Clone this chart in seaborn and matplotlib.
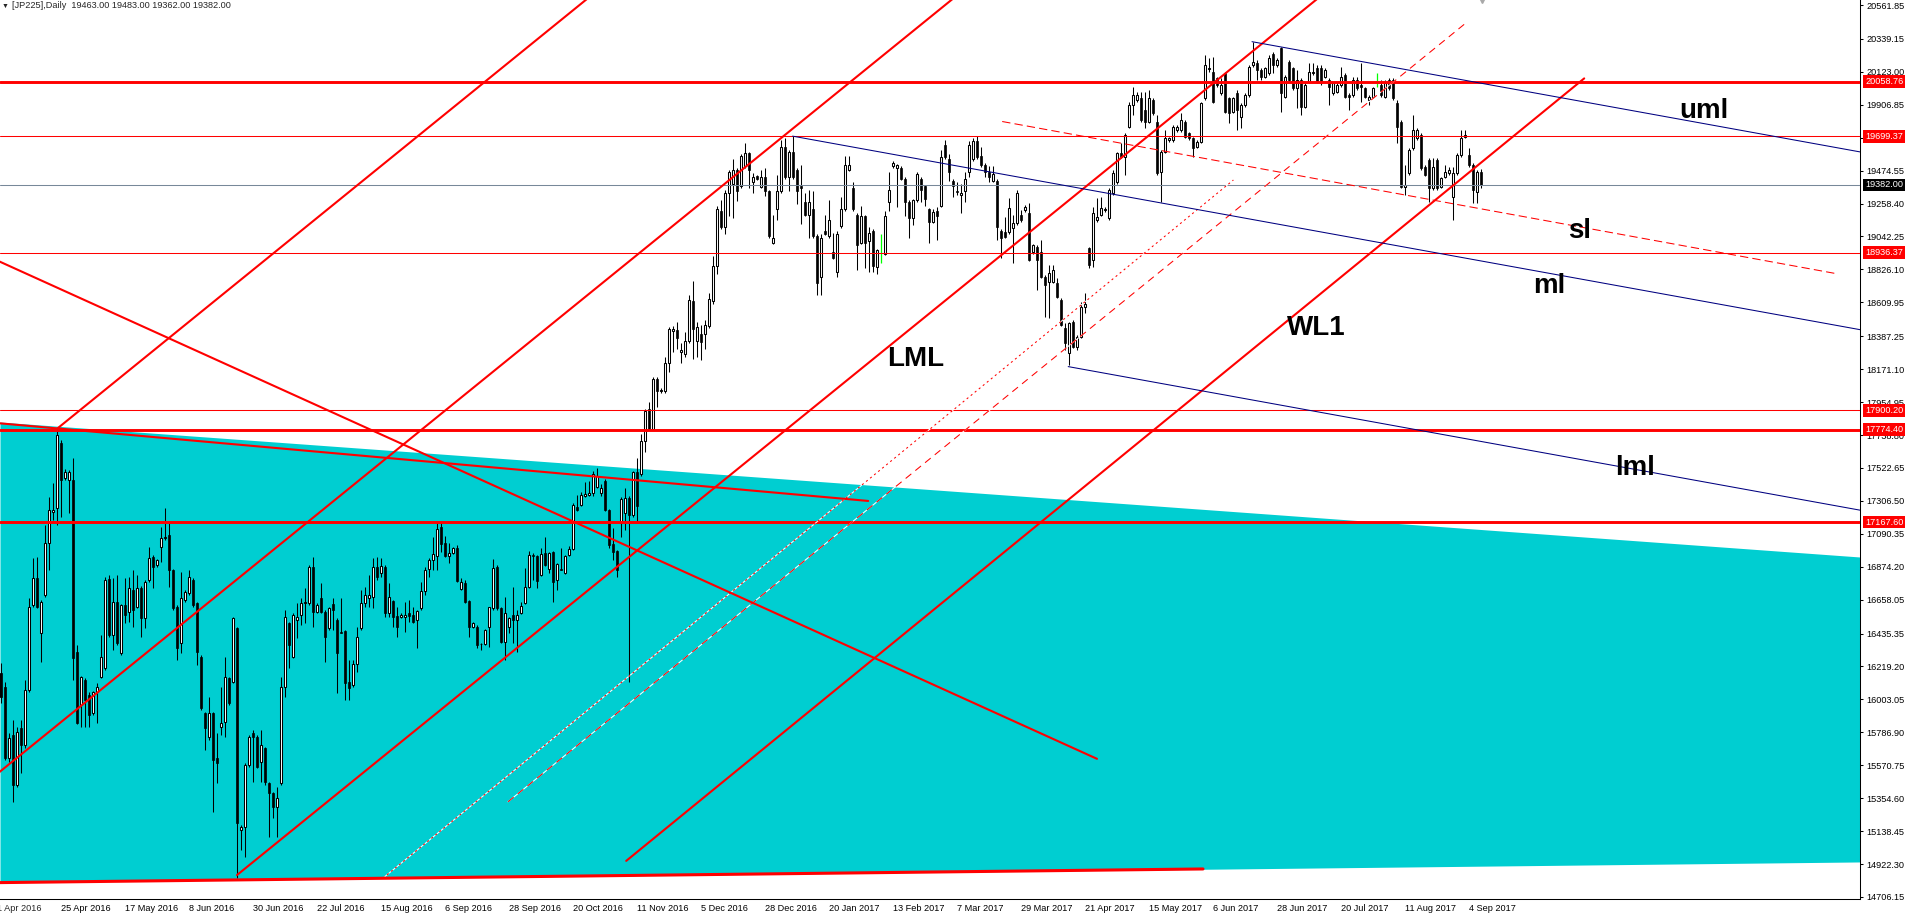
import numpy as np
import pandas as pd
import matplotlib
matplotlib.use("Agg")
import matplotlib.pyplot as plt
import seaborn as sns

# JP225 daily bars, oldest first (bar 0 sits on the left edge of the chart)
opens = [
    16174, 16087, 15616, 15769, 15441, 15813, 15704, 16065, 16623, 16798,
    16437, 16688, 17027, 17235, 17257, 17684, 17454, 17443, 17443, 16316,
    15966, 16130, 16032, 15912, 16054, 16152, 16207, 16791, 16426, 16645,
    16305, 16623, 16579, 16721, 16612, 16732, 16535, 16787, 16940, 16885,
    17006, 17060, 17082, 16852, 16612, 16371, 16655, 16699, 16787, 16634,
    16284, 15912, 15758, 15912, 15616, 15824, 15857, 16141, 16119, 16469,
    15146, 15168, 15572, 15780, 15758, 15594, 15682, 15452, 15386, 15299,
    15452, 16087, 16502, 16284, 16524, 16557, 16634, 16634, 16874, 16579,
    16666, 16579, 16469, 16630, 16525, 16448, 16452, 16120, 16098, 16235,
    16470, 16634, 16667, 16673, 16875, 16831, 16875, 16568, 16651, 16551,
    16542, 16542, 16568, 16557, 16525, 16601, 16715, 16857, 16918, 16945,
    17137, 17032, 16945, 16966, 16995, 16726, 16765, 16649, 16476, 16481,
    16367, 16367, 16476, 16601, 16875, 16601, 16382, 16476, 16557, 16525,
    16573, 16638, 16743, 16951, 16945, 16820, 16962, 16857, 16973, 16787,
    16862, 16831, 16951, 16988, 17264, 17279, 17341, 17345, 17356, 17400,
    17357, 17440, 17246, 17023, 16979, 17159, 17229, 17323, 17214, 17497,
    17486, 17697, 17908, 17779, 18107, 18025, 18025, 18212, 18424, 18428,
    18283, 18271, 18353, 18616, 18353, 18405, 18400, 18452, 18616, 18846,
    19209, 19103, 19326, 19385, 19479, 19373, 19502, 19591, 19397, 19436,
    19366, 19432, 19338, 18998, 19221, 19338, 19631, 19432, 19596, 19479,
    19373, 19268, 19186, 19221, 19045, 18775, 19080, 19045, 18939, 18810,
    19108, 19221, 19479, 19361, 19186, 18998, 19174, 19010, 19080, 18841,
    18950, 18928, 19268, 19502, 19490, 19490, 19420, 19268, 19162, 19279,
    19420, 19373, 19221, 19139, 19209, 19244, 19643, 19549, 19408, 19338,
    19315, 19338, 19467, 19549, 19666, 19572, 19514, 19467, 19408, 19408,
    19080, 19074, 19074, 19096, 19129, 19183, 19216, 19194, 18943, 18975,
    18943, 18778, 18746, 18746, 18735, 18625, 18439, 18275, 18483, 18319,
    18385, 18581, 18964, 18888, 19150, 19183, 19216, 19161, 19325, 19402,
    19588, 19566, 19763, 19905, 19938, 19949, 19873, 19796, 19938, 19796,
    19468, 19599, 19676, 19676, 19741, 19741, 19796, 19719, 19687, 19632,
    19665, 19949, 20139, 20124, 20080, 19982, 20113, 19949, 19862, 19982,
    19829, 19905, 19971, 20168, 20179, 20135, 20091, 20113, 20240, 20168,
    20277, 19960, 20190, 20146, 20015, 20069, 19894, 20058, 20113, 20146,
    20146, 20091, 20069, 19982, 19993, 20037, 20102, 19971, 19971, 20069,
    20037, 20015, 19938, 19960, 20070, 20037, 19960, 20069, 20069, 19916,
    19796, 19369, 19457, 19621, 19687, 19708, 19501, 19544, 19358, 19544,
    19369, 19435, 19457, 19300, 19457, 19577, 19698, 19577, 19511, 19336,
    19463,
]
highs = [
    16240, 16119, 15780, 15868, 15824, 15868, 16130, 16666, 16929, 16940,
    16655, 17148, 17334, 17421, 17782, 17706, 17513, 17509, 17585, 16360,
    16160, 16141, 16054, 16060, 16108, 16426, 16809, 16820, 16798, 16820,
    16630, 16798, 16809, 16852, 16820, 16745, 16787, 17006, 16950, 16925,
    17137, 17257, 17159, 16858, 16623, 16841, 16720, 16852, 16798, 16645,
    16295, 15923, 16021, 15923, 15780, 16087, 16284, 16152, 16546, 16480,
    15180, 15583, 15769, 15802, 15769, 15802, 15693, 15463, 15397, 15430,
    16152, 16590, 16513, 16568, 16634, 16666, 16732, 16885, 16940, 16634,
    16765, 16590, 16612, 16667, 16535, 16667, 16459, 16262, 16262, 16481,
    16722, 16743, 16820, 16929, 16940, 16929, 16886, 16765, 16656, 16612,
    16568, 16645, 16656, 16612, 16590, 16776, 16875, 16929, 17072, 17170,
    17170, 17076, 17028, 17006, 17017, 16798, 16787, 16656, 16514, 16492,
    16372, 16465, 16612, 16923, 16886, 16610, 16678, 16545, 16743, 16590,
    16645, 16864, 16977, 16966, 16951, 16995, 17067, 16973, 16980, 16897,
    16995, 16951, 17010, 17295, 17345, 17367, 17432, 17440, 17500, 17520,
    17420, 17450, 17250, 17126, 16985, 17330, 17389, 17340, 17500, 17591,
    17744, 17908, 17955, 18119, 18119, 18050, 18248, 18447, 18452, 18482,
    18342, 18412, 18658, 18752, 18482, 18459, 18494, 18670, 18916, 19244,
    19279, 19350, 19479, 19549, 19490, 19584, 19654, 19600, 19460, 19445,
    19479, 19490, 19345, 19186, 19443, 19678, 19690, 19610, 19701, 19490,
    19514, 19326, 19350, 19338, 19057, 19057, 19186, 19279, 19068, 19080,
    19303, 19572, 19572, 19397, 19195, 19244, 19180, 19103, 19090, 18960,
    19057, 19209, 19467, 19537, 19520, 19502, 19430, 19280, 19290, 19467,
    19430, 19380, 19230, 19221, 19233, 19608, 19678, 19584, 19420, 19397,
    19385, 19467, 19666, 19690, 19701, 19631, 19525, 19502, 19502, 19420,
    19090, 19172, 19293, 19183, 19347, 19216, 19250, 19260, 18995, 18985,
    19019, 18790, 18855, 18855, 18768, 18636, 18472, 18480, 18495, 18395,
    18614, 18669, 18975, 19238, 19293, 19304, 19238, 19358, 19479, 19599,
    19654, 19719, 19927, 20026, 19993, 19993, 19993, 20004, 19949, 19840,
    19610, 19741, 19698, 19774, 19774, 19851, 19807, 19730, 19698, 19676,
    19927, 20234, 20212, 20223, 20091, 20080, 20124, 19960, 19960, 20004,
    19916, 19982, 20168, 20321, 20201, 20146, 20157, 20234, 20251, 20212,
    20288, 20102, 20201, 20157, 20135, 20080, 20047, 20179, 20183, 20168,
    20168, 20146, 20080, 20058, 20047, 20157, 20113, 19982, 20091, 20091,
    20179, 20026, 19971, 20026, 20113, 20069, 20069, 20080, 20080, 19938,
    19807, 19511, 19621, 19840, 19752, 19719, 19512, 19555, 19555, 19555,
    19435, 19511, 19500, 19501, 19588, 19741, 19741, 19621, 19522, 19479,
    19483,
]
lows = [
    15977, 15605, 15594, 15332, 15430, 15518, 15682, 16054, 16612, 16601,
    16251, 16677, 16852, 17181, 17148, 17202, 17443, 17224, 16130, 15840,
    15824, 15824, 15824, 15901, 15846, 16141, 16196, 16415, 16327, 16360,
    16295, 16502, 16513, 16480, 16601, 16415, 16469, 16776, 16732, 16874,
    16907, 17050, 16743, 16590, 16262, 16305, 16645, 16690, 16612, 16229,
    15933, 15671, 15737, 15266, 15452, 15769, 15758, 15966, 16108, 14829,
    15015, 14971, 15561, 15463, 15550, 15463, 15441, 15102, 15222, 15102,
    15441, 16021, 16207, 16273, 16404, 16491, 16502, 16623, 16480, 16568,
    16568, 16251, 16459, 16459, 16043, 16437, 15999, 15999, 16087, 16185,
    16459, 16612, 16612, 16601, 16787, 16809, 16546, 16546, 16481, 16415,
    16535, 16448, 16514, 16503, 16338, 16590, 16689, 16809, 16853, 16853,
    16973, 16940, 16896, 16960, 16776, 16720, 16634, 16415, 16470, 16338,
    16327, 16360, 16349, 16590, 16590, 16371, 16262, 16437, 16371, 16317,
    16565, 16630, 16732, 16787, 16732, 16810, 16880, 16831, 16645, 16721,
    16850, 16825, 16945, 16983, 17240, 17270, 17330, 17340, 17340, 17390,
    17340, 17240, 17000, 16918, 16809, 17071, 17115, 16119, 17200, 17169,
    17470, 17626, 17769, 17769, 17920, 18013, 18013, 18154, 18283, 18306,
    18213, 18248, 18340, 18236, 18248, 18231, 18306, 18440, 18600, 18799,
    19090, 19061, 19174, 19162, 19272, 19360, 19490, 19361, 19326, 19410,
    19360, 19310, 19030, 18990, 19150, 19330, 19420, 19338, 19420, 19256,
    19127, 19175, 19033, 19035, 18658, 18658, 19050, 19035, 18895, 18775,
    19100, 19210, 19470, 19210, 18822, 18990, 18834, 18810, 18810, 18799,
    18869, 18920, 19209, 19495, 19233, 19410, 19174, 19033, 19115, 19270,
    19268, 19244, 18998, 19130, 19021, 19235, 19550, 19408, 19303, 19315,
    19197, 19268, 19432, 19540, 19550, 19500, 19432, 19397, 19400, 19021,
    18904, 19030, 19060, 18866, 19120, 19140, 19205, 18880, 18930, 18691,
    18770, 18516, 18505, 18735, 18640, 18455, 18297, 18199, 18310, 18297,
    18375, 18538, 18833, 18844, 19140, 19175, 19205, 19150, 19315, 19390,
    19555, 19446, 19752, 19840, 19927, 19796, 19752, 19785, 19840, 19446,
    19271, 19590, 19665, 19665, 19730, 19730, 19687, 19676, 19566, 19621,
    19654, 19938, 20124, 19916, 20026, 19971, 19851, 19785, 19851, 19741,
    19752, 19894, 19960, 20157, 20069, 20069, 20080, 20102, 20113, 20157,
    19862, 19949, 20058, 20004, 19883, 19840, 19883, 20047, 20102, 20047,
    20036, 20080, 19905, 19971, 19982, 20026, 19949, 19872, 19960, 20004,
    19927, 19949, 19905, 19949, 20026, 19960, 19949, 20004, 19938, 19654,
    19360, 19315, 19446, 19610, 19676, 19480, 19436, 19271, 19347, 19347,
    19358, 19424, 19446, 19150, 19446, 19566, 19687, 19500, 19260, 19260,
    19362,
]
closes = [
    16021, 15616, 15747, 15441, 15791, 15704, 16065, 16612, 16798, 16612,
    16645, 17027, 17246, 17246, 17739, 17443, 17498, 17498, 16273, 15846,
    16152, 15999, 15901, 16054, 16087, 16284, 16787, 16426, 16645, 16371,
    16623, 16557, 16732, 16590, 16732, 16535, 16776, 16929, 16874, 16918,
    17060, 17071, 16852, 16601, 16338, 16666, 16710, 16809, 16623, 16316,
    15944, 15813, 15912, 15605, 15583, 15846, 16152, 15977, 16535, 15190,
    15168, 15572, 15758, 15758, 15561, 15704, 15463, 15386, 15299, 15354,
    16087, 16546, 16360, 16557, 16546, 16634, 16645, 16874, 16579, 16623,
    16579, 16415, 16601, 16590, 16306, 16441, 16109, 16076, 16234, 16415,
    16634, 16689, 16689, 16875, 16804, 16882, 16568, 16673, 16546, 16481,
    16557, 16557, 16551, 16514, 16586, 16715, 16853, 16918, 16958, 17120,
    17023, 16945, 16966, 16995, 16783, 16776, 16645, 16481, 16503, 16360,
    16365, 16459, 16608, 16864, 16601, 16382, 16568, 16536, 16525, 16557,
    16617, 16743, 16949, 16945, 16783, 16958, 16886, 16966, 16776, 16892,
    16853, 16945, 16988, 17279, 17246, 17345, 17352, 17356, 17480, 17470,
    17392, 17246, 17017, 16973, 16852, 17316, 17323, 17214, 17497, 17275,
    17697, 17896, 17779, 18107, 18025, 18037, 18212, 18435, 18435, 18377,
    18295, 18353, 18623, 18435, 18447, 18349, 18459, 18635, 18846, 19225,
    19103, 19326, 19467, 19479, 19338, 19572, 19591, 19479, 19432, 19420,
    19432, 19338, 19045, 19033, 19338, 19631, 19432, 19596, 19432, 19338,
    19361, 19186, 19268, 19045, 18740, 19033, 19061, 19150, 18904, 19057,
    19221, 19514, 19514, 19221, 18986, 19174, 18998, 19068, 18846, 18951,
    18950, 19174, 19350, 19526, 19514, 19420, 19268, 19162, 19279, 19455,
    19350, 19291, 19139, 19202, 19174, 19561, 19561, 19467, 19373, 19333,
    19326, 19420, 19643, 19666, 19561, 19514, 19467, 19432, 19455, 19103,
    19033, 19041, 19227, 19129, 19326, 19150, 19238, 18888, 18986, 18888,
    18778, 18724, 18800, 18822, 18647, 18461, 18341, 18472, 18319, 18385,
    18581, 18599, 18855, 19194, 19172, 19227, 19220, 19347, 19457, 19588,
    19566, 19708, 19905, 19971, 19971, 19807, 19796, 19949, 19851, 19457,
    19599, 19687, 19687, 19763, 19763, 19807, 19698, 19687, 19621, 19665,
    19916, 20168, 20146, 19927, 20037, 20037, 19862, 19851, 19949, 19873,
    19905, 19971, 20157, 20190, 20135, 20091, 20146, 20212, 20168, 20201,
    19982, 20091, 20069, 20015, 20069, 19894, 20037, 20124, 20124, 20058,
    20047, 20135, 20026, 20047, 20037, 20091, 19960, 19960, 20069, 20015,
    20026, 19960, 19960, 20015, 20070, 19971, 20047, 20015, 19949, 19763,
    19369, 19380, 19610, 19741, 19741, 19490, 19446, 19358, 19501, 19358,
    19424, 19468, 19479, 19457, 19577, 19687, 19708, 19511, 19347, 19468,
    19382,
]

date_labels = [
    "25 Apr 2016", "17 May 2016", "8 Jun 2016", "30 Jun 2016", "22 Jul 2016",
    "15 Aug 2016", "6 Sep 2016", "28 Sep 2016", "20 Oct 2016", "11 Nov 2016",
    "5 Dec 2016", "28 Dec 2016", "20 Jan 2017", "13 Feb 2017", "7 Mar 2017",
    "29 Mar 2017", "21 Apr 2017", "15 May 2017", "6 Jun 2017", "28 Jun 2017",
    "20 Jul 2017", "11 Aug 2017", "4 Sep 2017",
]
first_label = "1 Apr 2016"

ytick_values = [
    20561.85, 20339.15, 20123.00, 19906.85, 19690.70, 19474.55, 19258.40,
    19042.25, 18826.10, 18609.95, 18387.25, 18171.10, 17954.95, 17738.80,
    17522.65, 17306.50, 17090.35, 16874.20, 16658.05, 16435.35, 16219.20,
    16003.05, 15786.90, 15570.75, 15354.60, 15138.45, 14922.30, 14706.15,
]

level_prices = [20058.76, 19699.37, 18936.37, 17900.20, 17774.40, 17167.60]
level_thick = [True, False, False, False, True, True]
last_price = 19382.00

# filled channel: prices of its edges at the two chart edges
channel_bars = [-0.15, 464.85]
channel_top = [17824, 16938]
channel_bottom = [14800, 14936]

# hand-drawn lines as (bars, prices) end points
line_a = ([14.35, 160.0], [17785, 20887])
line_b = ([-5.0, 260.0], [15426, 21070])
line_c = ([59.1, 340.0], [14850, 20833])
line_wl1 = ([156.4, 395.9], [14943, 20080])
line_e = ([-5.0, 274.1], [18934, 15613])
line_f = ([-5.0, 216.9], [17827, 17306])
line_g = ([-5.0, 300.6], [14799, 14890])
dotted_line = ([95.6, 308.2], [14830, 19413])
dashed_line = ([126.85, 366.0], [15331, 20437])
sl_line = ([250.4, 459.4], [19797, 18796])
uml_line = ([312.85, 470.0], [20321, 19573])
ml_line = ([198.0, 470.0], [19701, 18406])
lml_line = ([266.9, 470.0], [18188, 17221])

label_text = ["uml", "sl", "ml", "lml", "LML", "WL1"]
label_bars = [419.6, 391.8, 383.1, 403.6, 221.6, 321.6]
label_prices = [19820, 19032, 18671, 17476, 18189, 18395]

df = pd.DataFrame({"open": opens, "high": highs, "low": lows, "close": closes})
df["bar"] = np.arange(len(df))
df["high"] = df[["high", "open", "close"]].max(axis=1)
df["low"] = df[["low", "open", "close"]].min(axis=1)

sns.set_style("white")
plt.rcParams["font.family"] = ["Liberation Sans", "DejaVu Sans"]

W, H = 1905, 919
fig = plt.figure(figsize=(W / 100, H / 100), dpi=100)
ax = fig.add_axes([0, 20 / H, 1860 / W, 899 / H])
ax.set_xlim(-0.15, 464.85)
ax.set_ylim(14692.8, 20594.7)

RED = "#FF0000"
NAVY = "#000080"
CYAN = "#00CED1"

ax.fill_between(channel_bars, channel_bottom, channel_top, color=CYAN, lw=0, zorder=1)

# candles
rise = df["close"] > df["open"]
fall = df["close"] < df["open"]
flat = df["close"] == df["open"]
body_low = df[["open", "close"]].min(axis=1)
body_h = (df["close"] - df["open"]).abs().clip(lower=2.0)

ax.vlines(df["bar"][~flat], df["low"][~flat], df["high"][~flat], color="black", lw=0.75, zorder=3)
ax.bar(df["bar"][rise], body_h[rise], bottom=body_low[rise], width=0.55,
       color="white", edgecolor="black", linewidth=0.75, zorder=4)
ax.bar(df["bar"][fall], body_h[fall], bottom=body_low[fall], width=0.55,
       color="black", edgecolor="black", linewidth=0.5, zorder=4)
ax.vlines(df["bar"][flat], df["low"][flat], df["high"][flat], color="#00FF00", lw=0.9, zorder=4)

# horizontal levels
for price, thick in zip(level_prices, level_thick):
    ax.axhline(price, color=RED, lw=2.1 if thick else 0.75, zorder=5)
ax.axhline(last_price, color="#778899", lw=0.75, zorder=5)


def seg(line, color, lw, ls="-", z=6):
    sns.lineplot(x=line[0], y=line[1], ax=ax, color=color, linewidth=lw,
                 linestyle=ls, estimator=None, sort=False, legend=False, zorder=z)


for ln in [line_a, line_b, line_c, line_wl1, line_e, line_f]:
    seg(ln, RED, 1.5)
seg(line_g, RED, 2.2)

# dotted / dashed lines keep white gaps like the terminal does
seg(dotted_line, "white", 0.75, z=5.5)
seg(dotted_line, RED, 0.75, (0, (2, 3)))
seg(dashed_line, "white", 0.75, z=5.5)
seg(dashed_line, RED, 0.75, (0, (7, 5)))
seg(sl_line, RED, 0.75, (0, (8, 4)))

for ln in [uml_line, ml_line, lml_line]:
    seg(ln, NAVY, 0.75)

for txt, b, p in zip(label_text, label_bars, label_prices):
    ax.text(b, p, txt, fontsize=20, fontweight="bold", color="black",
            ha="left", va="baseline", zorder=8)

# axes look
for side in ["left", "top"]:
    ax.spines[side].set_visible(False)
for side in ["right", "bottom"]:
    ax.spines[side].set_color("black")
    ax.spines[side].set_linewidth(0.75)

ax.yaxis.tick_right()
ax.set_yticks(ytick_values)
ax.set_yticklabels([f"{v:.2f}" for v in ytick_values])
ax.tick_params(axis="y", direction="out", length=2.2, width=0.75, pad=2.2,
               labelsize=6.6, colors="black")

tick_bars = [15 + 16 * i for i in range(len(date_labels))]
ax.set_xticks(tick_bars)
ax.set_xticklabels(date_labels, ha="left")
ax.tick_params(axis="x", direction="out", length=2.9, width=0.75, pad=0.6,
               labelsize=6.6, colors="black")
ax.annotate(first_label, xy=(-1, 0), xycoords=("data", "axes fraction"),
            xytext=(0, -3.5), textcoords="offset points", ha="left", va="top",
            fontsize=6.6, annotation_clip=False)
ax.grid(False)

# price boxes on the right scale
for price in level_prices:
    ax.text(1.0027, price, f"{price:.2f}", transform=ax.get_yaxis_transform(),
            ha="left", va="center", color="white", fontsize=6.6, clip_on=False,
            bbox=dict(boxstyle="square,pad=0.18", fc=RED, ec="none"), zorder=10)
ax.text(1.0027, last_price, f"{last_price:.2f}", transform=ax.get_yaxis_transform(),
        ha="left", va="center", color="white", fontsize=6.6, clip_on=False,
        bbox=dict(boxstyle="square,pad=0.18", fc="black", ec="none"), zorder=10)

# header
last = df.iloc[-1]
fig.text(2 / W, 1 - 6 / H, "\u25bc", fontsize=5, va="center", ha="left")
fig.text(12 / W, 1 - 6 / H,
         f"[JP225],Daily  {last['open']:.2f} {last['high']:.2f} {last['low']:.2f} {last['close']:.2f}",
         fontsize=6.6, va="center", ha="left")
ax.plot([len(df) - 0.6], [20594.7], marker="v", ms=5, color="#A9A9A9",
        clip_on=False, zorder=9)

fig.savefig("out.png", dpi=100)
